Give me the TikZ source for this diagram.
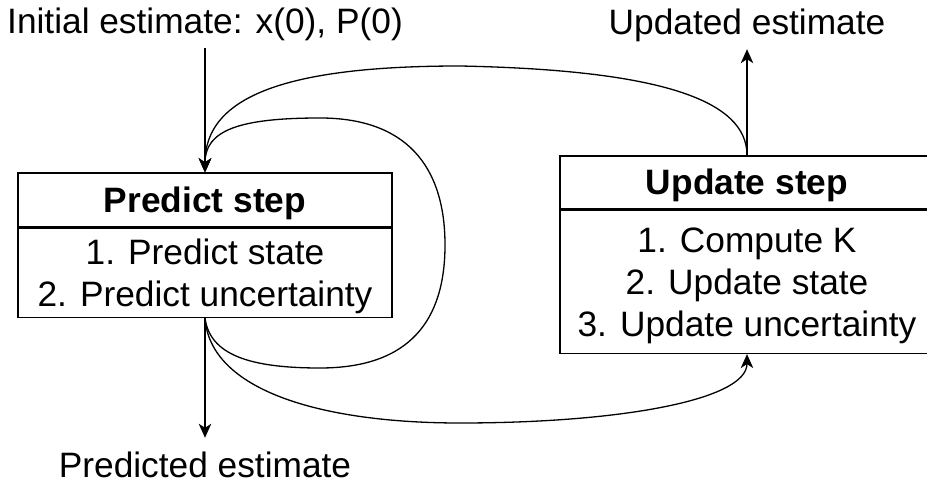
\documentclass[tikz,border=0pt]{standalone}
\usepackage{fontspec}
\setmainfont{Liberation Sans}
\usetikzlibrary{arrows.meta}
\newcommand\diagfont{\fontsize{35.3bp}{42bp}\selectfont}

\begin{document}
\begin{tikzpicture}[x=1bp,y=-1bp,
  every node/.style={font=\diagfont},
  sect/.style={draw, line width=1.4bp, minimum width=374bp, inner sep=0pt,
               align=center, text depth=0pt},
  lbl/.style={inner xsep=0pt, inner ysep=14bp, text height=25bp, text depth=0pt},
  flow/.style={line width=1.3bp, -{Stealth[length=14bp,width=12.5bp,inset=4bp]}}
]
\useasboundingbox (0,0) rectangle (927,488);
\clip (0,0) rectangle (927,488);

% Predict step: title row and task list
\node[sect, minimum height=54bp, text height=25bp, font=\diagfont\bfseries]
  (ph) at (205,200) {Predict step};
\node[sect, minimum height=89bp, text height=67bp, anchor=north]
  (pb) at (ph.south) {1. Predict state\\2. Predict uncertainty};

% Update step: title row and task list
\node[sect, minimum height=53bp, text height=25bp, font=\diagfont\bfseries]
  (uh) at (747,182.5) {Update step};
\node[sect, minimum height=143bp, text height=109bp, anchor=north]
  (ub) at (uh.south) {1. Compute K\\2. Update state\\3. Update uncertainty};

% Free labels
\node[lbl, anchor=base] (init) at (205,34) {Initial estimate: x(0), P(0)};
\node[lbl, anchor=base] (upd) at (747,35) {Updated estimate};
\node[lbl, anchor=base] (pred) at (205,477) {Predicted estimate};

% Waypoints of the curved connectors
\coordinate (topmid) at (460,66);
\coordinate (loopbot) at (320,368);
\coordinate (loopright) at (445,245);
\coordinate (looptop) at (320,118);
\coordinate (lowmid) at (460,423);

% Straight connectors
\draw[flow] (init.south) -- (ph.north);
\draw[flow] (uh.north) -- (upd.south);
\draw[flow] (pb.south) -- (pred.north);

% Update -> Predict (over the top)
\draw[flow] (uh.north) .. controls (747,100) and (660,70) .. (topmid)
  .. controls (290,66) and (205,95) .. (ph.north);

% Predict -> Predict (loop on the right)
\draw[flow] (pb.south) .. controls (210,355) and (250,368) .. (loopbot)
  .. controls (410,368) and (445,320) .. (loopright)
  .. controls (445,165) and (405,118) .. (looptop)
  .. controls (240,118) and (205,130) .. (ph.north);

% Predict -> Update (along the bottom)
\draw[flow] (pb.south) .. controls (210,390) and (320,423) .. (lowmid)
  .. controls (620,423) and (747,400) .. (ub.south);
\end{tikzpicture}
\end{document}
